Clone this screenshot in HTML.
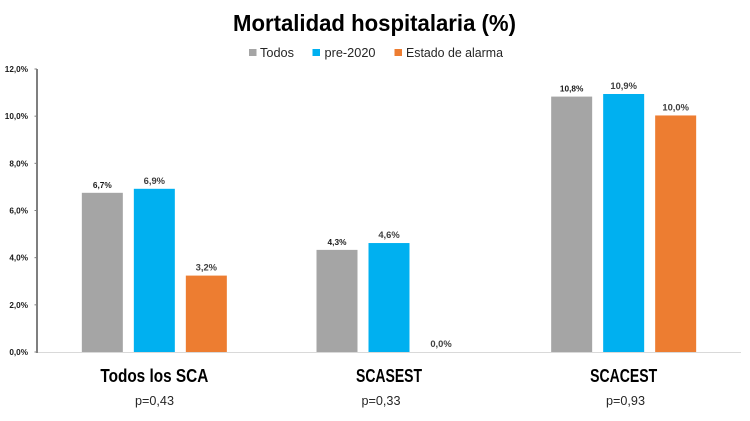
<!DOCTYPE html>
<html lang="es">
<head>
<meta charset="utf-8">
<title>Mortalidad hospitalaria (%)</title>
<style>
html,body{margin:0;padding:0;background:#fff;}
svg{display:block;font-family:"Liberation Sans",sans-serif;}
</style>
</head>
<body>
<svg id="chart" xmlns="http://www.w3.org/2000/svg" width="750" height="421" viewBox="0 0 750 421">
  <rect x="0" y="0" width="750" height="421" fill="#ffffff"/>
  <text x="233" y="31" font-size="23" font-weight="700" fill="#000" textLength="283" lengthAdjust="spacingAndGlyphs">Mortalidad hospitalaria (%)</text>
  <g>
    <g>
      <rect x="249" y="49" width="7.5" height="7" fill="#a5a5a5"/>
      <text x="260" y="57" font-size="13" fill="#262626" textLength="34" lengthAdjust="spacingAndGlyphs">Todos</text>
    </g>
    <g>
      <rect x="312.5" y="49" width="7.5" height="7" fill="#00b0f0"/>
      <text x="324.5" y="57" font-size="13" fill="#262626" textLength="51" lengthAdjust="spacingAndGlyphs">pre-2020</text>
    </g>
    <g>
      <rect x="394.5" y="49" width="7.5" height="7" fill="#ed7d31"/>
      <text x="406" y="57" font-size="13" fill="#262626" textLength="97" lengthAdjust="spacingAndGlyphs">Estado de alarma</text>
    </g>
  </g>
  <g id="axes"></g>
  <g id="bars"></g>
  <g id="labels"></g>
  <g font-size="12.5" fill="#262626" text-anchor="middle">
    <text x="154.5" y="405" textLength="39" lengthAdjust="spacingAndGlyphs">p=0,43</text>
    <text x="381" y="405" textLength="39" lengthAdjust="spacingAndGlyphs">p=0,33</text>
    <text x="625.5" y="405" textLength="39" lengthAdjust="spacingAndGlyphs">p=0,93</text>
  </g>
</svg>
<script>
const categories = ["Todos los SCA", "SCASEST", "SCACEST"];
const categoryWidths = [108, 66, 67];
const seriesNames = ["todos", "pre-2020", "estado-de-alarma"];
const seriesColors = ["#a5a5a5", "#00b0f0", "#ed7d31"];
const todos = [6.75, 4.33, 10.83];
const pre2020 = [6.92, 4.62, 10.94];
const alarma = [3.24, 0, 10.03];
const todosLabels = ["6,7%", "4,3%", "10,8%"];
const pre2020Labels = ["6,9%", "4,6%", "10,9%"];
const alarmaLabels = ["3,2%", "0,0%", "10,0%"];
const yTicks = [0, 2, 4, 6, 8, 10, 12];
const yTickLabels = ["0,0%", "2,0%", "4,0%", "6,0%", "8,0%", "10,0%", "12,0%"];

const NS = "http://www.w3.org/2000/svg";
const plotLeft = 37, plotRight = 741, plotTop = 69, plotBottom = 352, yMax = 12;
const barWidth = 41, barOffset = 52;
const allSeries = [todos, pre2020, alarma];
const allLabels = [todosLabels, pre2020Labels, alarmaLabels];

function yScale(v) { return plotBottom - (v / yMax) * (plotBottom - plotTop); }
function xBand(i) { return plotLeft + (plotRight - plotLeft) * (i + 0.5) / categories.length; }
function make(tag, attrs, text) {
  const el = document.createElementNS(NS, tag);
  for (const k in attrs) el.setAttribute(k, attrs[k]);
  if (text !== undefined) el.textContent = text;
  return el;
}

const axes = document.getElementById("axes");
const bars = document.getElementById("bars");
const labels = document.getElementById("labels");

const xAxis = make("line", {x1: plotLeft, x2: plotRight, y1: plotBottom + 0.5, y2: plotBottom + 0.5, stroke: "#d9d9d9", "stroke-width": 1});


axes.appendChild(xAxis);

const yAxis = make("line", {x1: plotLeft, x2: plotLeft, y1: plotTop, y2: plotBottom + 1, stroke: "#7f7f7f", "stroke-width": 2});


axes.appendChild(yAxis);

yTicks.forEach(function (t, i) {
  const y = yScale(t);
  const tick = make("line", {x1: plotLeft - 2.5, x2: plotLeft, y1: y, y2: y, stroke: "#7f7f7f", "stroke-width": 1});
  
  
  axes.appendChild(tick);
  const label = make("text", {x: 28, y: y + 3, "text-anchor": "end", "font-size": 8.2, "font-weight": 700, fill: "#1a1a1a"}, yTickLabels[i]);
  
  
  axes.appendChild(label);
});

categories.forEach(function (cat, c) {
  const cx = xBand(c);
  allSeries.forEach(function (series, s) {
    const v = series[c];
    const top = yScale(v);
    const bx = cx + (s - 1) * barOffset - barWidth / 2;
    if (v > 0) {
      const bar = make("rect", {x: bx, y: top, width: barWidth, height: plotBottom - top, fill: seriesColors[s]});
      
      
      bars.appendChild(bar);
    }
    const isGray = s === 0;
    const valueLabel = make("text", {
      x: bx + barWidth / 2,
      y: top - 5,
      "text-anchor": "middle",
      "font-size": isGray ? 8.3 : 9.4,
      "font-weight": 700,
      fill: isGray ? "#1a1a1a" : "#404040"
    }, allLabels[s][c]);
    
    
    labels.appendChild(valueLabel);
  });

  const catLabel = make("text", {
    x: cx, y: 382, "text-anchor": "middle", "font-size": 18, "font-weight": 700, fill: "#000000",
    textLength: categoryWidths[c], lengthAdjust: "spacingAndGlyphs"
  }, cat);
  
  
  labels.appendChild(catLabel);
});
</script>
</body>
</html>
